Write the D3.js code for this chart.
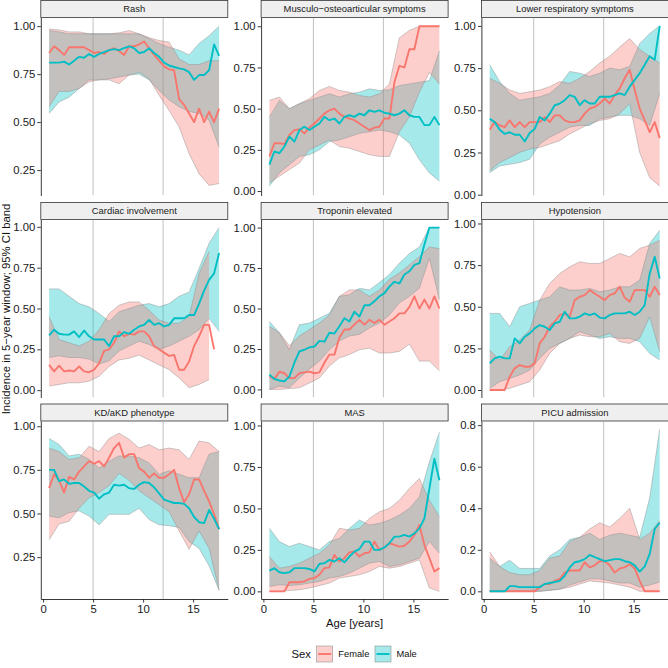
<!DOCTYPE html>
<html><head><meta charset="utf-8">
<script src="https://cdn.jsdelivr.net/npm/d3@7"></script>
<style>
body{margin:0;background:#fff}
svg{display:block}
text{font-family:"Liberation Sans",Arial,Helvetica,sans-serif}
</style>
</head><body>
<svg id="chart" width="668" height="668"></svg>
<script>
// ---------- data ----------
const ages = [0.6,1.1,1.6,2.1,2.6,3.1,3.6,4.1,4.6,5.1,5.6,6.1,6.6,7.1,7.6,8.1,8.6,9.1,9.6,10.1,10.6,11.1,11.6,12.1,12.6,13.1,13.6,14.1,14.6,15.1,15.6,16.1,16.6,17.1,17.6];
const bandAges = [0.6,1.6,2.6,3.6,4.6,5.6,6.6,7.6,8.6,9.6,10.6,11.6,12.6,13.6,14.6,15.6,16.6,17.6];
const panelTitles = ["Rash","Musculo\u2212osteoarticular symptoms","Lower respiratory symptoms","Cardiac involvement","Troponin elevated","Hypotension","KD/aKD phenotype","MAS","PICU admission"];
const sexes = ["Female","Male"];
const xTicks = [0,5,10,15];
const refAges = [5,12];

// Rash
const rashF = [0.86,0.895,0.875,0.85,0.89,0.89,0.89,0.89,0.875,0.86,0.865,0.855,0.875,0.885,0.87,0.85,0.895,0.895,0.905,0.92,0.885,0.85,0.82,0.79,0.775,0.77,0.62,0.59,0.545,0.50,0.57,0.50,0.555,0.50,0.57];
const rashM = [0.81,0.81,0.81,0.815,0.80,0.82,0.84,0.835,0.855,0.84,0.855,0.865,0.875,0.88,0.875,0.885,0.895,0.885,0.86,0.865,0.885,0.86,0.84,0.81,0.795,0.787,0.78,0.775,0.76,0.72,0.745,0.745,0.77,0.905,0.845];
const rashFHi = [0.985,0.98,0.97,0.97,0.96,0.96,0.96,0.965,0.977,0.96,0.94,0.925,0.917,0.83,0.80,0.80,0.82,0.82];
const rashFLo = [0.58,0.66,0.66,0.675,0.71,0.72,0.72,0.70,0.745,0.76,0.725,0.64,0.56,0.475,0.335,0.23,0.17,0.18];
const rashMHi = [0.977,0.97,0.96,0.96,0.96,0.96,0.96,0.96,0.96,0.96,0.935,0.91,0.89,0.875,0.85,0.91,0.95,1.0];
const rashMLo = [0.545,0.605,0.63,0.675,0.72,0.72,0.725,0.735,0.745,0.75,0.72,0.665,0.615,0.58,0.555,0.545,0.51,0.37];

// Musculo-osteoarticular
const muscF = [0.21,0.29,0.29,0.285,0.34,0.37,0.375,0.35,0.385,0.41,0.44,0.47,0.49,0.50,0.47,0.45,0.44,0.43,0.41,0.39,0.37,0.385,0.39,0.44,0.44,0.66,0.76,0.75,0.86,0.86,1.0,1.0,1.0,1.0,1.0];
const muscM = [0.16,0.24,0.23,0.27,0.33,0.30,0.37,0.39,0.37,0.39,0.41,0.45,0.43,0.44,0.41,0.45,0.46,0.45,0.47,0.46,0.49,0.48,0.49,0.475,0.47,0.46,0.47,0.49,0.46,0.45,0.45,0.40,0.40,0.45,0.40];
const muscFHi = [0.55,0.57,0.50,0.53,0.56,0.61,0.635,0.61,0.60,0.58,0.57,0.59,0.65,0.93,0.975,1.0,1.0,1.0];
const muscFLo = [0.05,0.09,0.13,0.17,0.25,0.28,0.31,0.27,0.26,0.24,0.22,0.21,0.21,0.36,0.45,0.60,0.72,0.65];
const muscMHi = [0.45,0.55,0.50,0.53,0.55,0.57,0.59,0.57,0.59,0.60,0.62,0.61,0.615,0.64,0.65,0.66,0.67,0.85];
const muscMLo = [0.03,0.11,0.16,0.21,0.22,0.25,0.30,0.31,0.33,0.35,0.36,0.37,0.36,0.34,0.29,0.19,0.11,0.06];

// Lower respiratory
const respF = [0.385,0.43,0.41,0.40,0.44,0.40,0.43,0.40,0.43,0.43,0.43,0.46,0.43,0.47,0.47,0.44,0.43,0.43,0.44,0.48,0.51,0.52,0.54,0.57,0.54,0.59,0.63,0.69,0.74,0.62,0.51,0.44,0.37,0.43,0.335];
const respM = [0.45,0.43,0.385,0.36,0.37,0.355,0.355,0.315,0.365,0.39,0.46,0.44,0.48,0.53,0.54,0.56,0.59,0.58,0.53,0.56,0.54,0.54,0.58,0.58,0.58,0.59,0.60,0.59,0.64,0.68,0.72,0.77,0.82,0.80,1.0];
const respFHi = [0.69,0.66,0.62,0.60,0.61,0.62,0.64,0.67,0.66,0.69,0.73,0.78,0.82,0.875,0.925,0.86,0.82,0.78];
const respFLo = [0.14,0.19,0.22,0.25,0.27,0.28,0.30,0.32,0.36,0.39,0.42,0.44,0.45,0.48,0.54,0.25,0.10,0.05];
const respMHi = [0.77,0.67,0.60,0.56,0.57,0.58,0.60,0.65,0.73,0.72,0.70,0.72,0.75,0.74,0.76,0.895,0.955,1.0];
const respMLo = [0.13,0.17,0.18,0.19,0.21,0.30,0.34,0.37,0.40,0.41,0.41,0.45,0.46,0.47,0.47,0.45,0.41,0.60];

// Cardiac involvement
const cardF = [0.155,0.115,0.15,0.115,0.12,0.115,0.145,0.115,0.11,0.125,0.165,0.24,0.25,0.29,0.36,0.33,0.345,0.34,0.36,0.36,0.33,0.27,0.25,0.23,0.21,0.215,0.125,0.125,0.175,0.27,0.33,0.40,0.40,0.25,null];
const cardM = [0.335,0.37,0.345,0.34,0.34,0.36,0.325,0.365,0.33,0.31,0.31,0.31,0.27,0.33,0.33,0.355,0.345,0.37,0.39,0.40,0.43,0.40,0.41,0.39,0.40,0.44,0.44,0.44,0.46,0.46,0.53,0.61,0.675,0.715,0.84];
const cardFHi = [0.45,0.31,0.29,0.27,0.30,0.37,0.47,0.52,0.54,0.54,0.49,0.43,0.41,0.41,0.45,0.715,0.85,null];
const cardFLo = [0.025,0.035,0.045,0.045,0.055,0.085,0.145,0.185,0.195,0.215,0.185,0.155,0.125,0.075,0.015,0.035,0.065,null];
const cardMHi = [0.62,0.62,0.575,0.53,0.51,0.47,0.42,0.48,0.50,0.52,0.53,0.51,0.53,0.575,0.60,0.745,0.90,0.995];
const cardMLo = [0.20,0.21,0.20,0.20,0.19,0.16,0.18,0.24,0.27,0.30,0.28,0.25,0.27,0.30,0.33,0.37,0.44,0.36];

// Troponin elevated
const tropF = [0.08,0.065,0.11,0.10,0.07,0.07,0.10,0.105,0.11,0.10,0.105,0.165,0.215,0.215,0.32,0.37,0.37,0.40,0.43,0.40,0.43,0.41,0.43,0.40,0.42,0.44,0.47,0.47,0.51,0.575,0.50,0.555,0.50,0.575,0.50];
const tropM = [0.09,0.065,0.055,0.05,0.08,0.165,0.235,0.245,0.26,0.265,0.30,0.295,0.35,0.345,0.39,0.44,0.42,0.48,0.45,0.52,0.52,0.545,0.575,0.595,0.635,0.665,0.655,0.71,0.73,0.77,0.78,0.895,1.0,1.0,1.0];
const tropFHi = [0.39,0.35,0.27,0.33,0.37,0.41,0.46,0.575,0.615,0.615,0.575,0.615,0.68,0.72,0.77,0.82,0.88,0.87];
const tropFLo = [0.0,0.0,0.005,0.01,0.04,0.07,0.145,0.195,0.215,0.245,0.255,0.225,0.225,0.235,0.28,0.175,0.175,0.115];
const tropMHi = [0.42,0.35,0.245,0.40,0.41,0.44,0.47,0.575,0.585,0.625,0.615,0.66,0.71,0.78,0.84,0.88,1.0,1.0];
const tropMLo = [0.0,0.02,0.01,0.07,0.125,0.175,0.245,0.30,0.33,0.34,0.38,0.41,0.46,0.535,0.575,0.625,0.81,0.555];

// Hypotension
const hypoF = [0,0,0,0,0.08,0.13,0.15,0.14,0.14,0.16,0.28,0.32,0.38,0.41,0.45,0.46,0.44,0.54,0.56,0.57,0.60,0.58,0.56,0.54,0.57,0.58,0.62,0.555,0.53,0.60,0.60,0.60,0.56,0.62,0.57];
const hypoM = [0.16,0.19,0.20,0.19,0.19,0.31,0.28,0.32,0.34,0.37,0.39,0.38,0.36,0.40,0.41,0.47,0.43,0.43,0.44,0.46,0.45,0.46,0.435,0.43,0.45,0.46,0.46,0.46,0.47,0.45,0.47,0.51,0.70,0.80,0.67];
const hypoFHi = [0.24,0.18,0.26,0.30,0.36,0.54,0.64,0.70,0.74,0.77,0.76,0.76,0.79,0.82,0.80,0.85,0.87,0.90];
const hypoFLo = [0.0,0.0,0.01,0.03,0.05,0.12,0.22,0.28,0.31,0.33,0.32,0.32,0.34,0.29,0.28,0.31,0.44,0.23];
const hypoMHi = [0.46,0.46,0.38,0.50,0.52,0.54,0.56,0.62,0.60,0.60,0.61,0.59,0.60,0.62,0.62,0.66,0.88,0.96];
const hypoMLo = [0.01,0.05,0.07,0.09,0.12,0.19,0.25,0.28,0.31,0.35,0.33,0.31,0.32,0.31,0.31,0.29,0.22,0.18];

// KD/aKD phenotype
const kdF = [0.645,0.725,0.69,0.62,0.71,0.695,0.74,0.77,0.80,0.785,0.80,0.77,0.82,0.875,0.905,0.82,0.84,0.84,0.76,0.74,0.705,0.73,0.705,0.705,0.725,0.75,0.645,0.565,0.61,0.695,0.695,0.63,0.57,0.495,0.41];
const kdM = [0.75,0.75,0.685,0.695,0.67,0.675,0.675,0.655,0.63,0.62,0.585,0.61,0.62,0.665,0.66,0.665,0.645,0.64,0.665,0.68,0.675,0.65,0.615,0.58,0.57,0.56,0.56,0.555,0.53,0.48,0.45,0.445,0.52,0.47,0.41];
const kdFHi = [0.875,0.855,0.81,0.82,0.885,0.855,0.93,0.96,0.925,0.875,0.895,0.865,0.875,0.865,0.81,0.915,0.905,0.855];
const kdFLo = [0.35,0.44,0.455,0.53,0.59,0.62,0.66,0.73,0.69,0.63,0.59,0.55,0.51,0.40,0.295,0.40,0.30,0.06];
const kdMHi = [0.93,0.895,0.83,0.84,0.81,0.76,0.80,0.83,0.83,0.82,0.79,0.725,0.745,0.725,0.705,0.705,0.84,0.855];
const kdMLo = [0.485,0.475,0.505,0.515,0.485,0.435,0.495,0.495,0.495,0.53,0.465,0.435,0.43,0.42,0.34,0.30,0.20,0.06];

// MAS
const masF = [0,0,0,0,0.055,0.055,0.055,0.06,0.075,0.08,0.10,0.14,0.145,0.22,0.18,0.20,0.235,0.24,0.21,0.23,0.235,0.30,0.25,0.265,0.29,0.28,0.27,0.275,0.30,0.34,0.40,0.28,0.20,0.12,0.14];
const masM = [0.125,0.14,0.115,0.11,0.115,0.14,0.14,0.14,0.135,0.12,0.165,0.17,0.19,0.18,0.20,0.175,0.21,0.24,0.255,0.30,0.30,0.25,0.25,0.265,0.29,0.33,0.33,0.34,0.33,0.35,0.38,0.44,0.62,0.80,0.67];
const masFHi = [0.21,0.14,0.15,0.17,0.20,0.23,0.28,0.38,0.37,0.38,0.44,0.48,0.50,0.55,0.62,0.68,0.55,0.45];
const masFLo = [0,0,0.005,0.01,0.02,0.035,0.05,0.08,0.09,0.10,0.12,0.15,0.14,0.15,0.17,0.19,0.02,0];
const masMHi = [0.38,0.30,0.27,0.29,0.27,0.25,0.30,0.32,0.38,0.43,0.40,0.41,0.43,0.46,0.50,0.57,0.78,0.96];
const masMLo = [0.03,0.04,0.035,0.04,0.05,0.06,0.08,0.09,0.11,0.14,0.17,0.18,0.15,0.16,0.18,0.20,0.30,0.23];

// PICU admission
const picuF = [0,0,0,0,0,0,0,0,0,0,0.02,0.035,0.035,0.05,0.06,0.09,0.10,0.10,0.10,0.14,0.115,0.125,0.145,0.145,0.125,0.09,0.11,0.115,0.13,0.11,0.05,0,0,0,0];
const picuM = [0,0,0,0,0.025,0.025,0.02,0.02,0.02,0.02,0.02,0.035,0.04,0.045,0.05,0.075,0.115,0.14,0.145,0.155,0.175,0.165,0.155,0.145,0.15,0.155,0.155,0.145,0.14,0.125,0.095,0.12,0.18,0.30,0.33];
const picuFHi = [0.19,0.12,0.09,0.08,0.08,0.10,0.16,0.17,0.24,0.26,0.30,0.33,0.31,0.35,0.40,0.25,0.28,0.34];
const picuFLo = [0,0,0,0,0,0,0.005,0.01,0.02,0.035,0.05,0.045,0.04,0.03,0.02,0,0,0];
const picuMHi = [0.16,0.12,0.15,0.11,0.11,0.11,0.17,0.20,0.25,0.26,0.28,0.25,0.27,0.28,0.27,0.26,0.45,0.78];
const picuMLo = [0,0,0,0,0,0,0.005,0.01,0.03,0.045,0.06,0.06,0.05,0.04,0.04,0.02,0.03,0.045];

// y-axis tick values / labels per panel
const ticksQ1 = [0.25,0.5,0.75,1.0];
const ticksQ0 = [0,0.25,0.5,0.75,1.0];
const labelsQ1 = ["0.25","0.50","0.75","1.00"];
const labelsQ0 = ["0.00","0.25","0.50","0.75","1.00"];
const ticksP = [0,0.2,0.4,0.6,0.8];
const labelsP = ["0.0","0.2","0.4","0.6","0.8"];

// y-scale domains (free y scales)
const yDomains = [[0.1175,1.045],[-0.027,1.053],[-0.005,1.05],[-0.045,1.045],[-0.05,1.05],[-0.045,1.024],[0.01,1.03],[-0.046,1.027],[-0.037,0.82]];

const panels = [
  {f:rashF,m:rashM,fHi:rashFHi,fLo:rashFLo,mHi:rashMHi,mLo:rashMLo,ticks:ticksQ1,labels:labelsQ1},
  {f:muscF,m:muscM,fHi:muscFHi,fLo:muscFLo,mHi:muscMHi,mLo:muscMLo,ticks:ticksQ0,labels:labelsQ0},
  {f:respF,m:respM,fHi:respFHi,fLo:respFLo,mHi:respMHi,mLo:respMLo,ticks:ticksQ0,labels:labelsQ0},
  {f:cardF,m:cardM,fHi:cardFHi,fLo:cardFLo,mHi:cardMHi,mLo:cardMLo,ticks:ticksQ0,labels:labelsQ0},
  {f:tropF,m:tropM,fHi:tropFHi,fLo:tropFLo,mHi:tropMHi,mLo:tropMLo,ticks:ticksQ0,labels:labelsQ0},
  {f:hypoF,m:hypoM,fHi:hypoFHi,fLo:hypoFLo,mHi:hypoMHi,mLo:hypoMLo,ticks:ticksQ0,labels:labelsQ0},
  {f:kdF,m:kdM,fHi:kdFHi,fLo:kdFLo,mHi:kdMHi,mLo:kdMLo,ticks:ticksQ1,labels:labelsQ1},
  {f:masF,m:masM,fHi:masFHi,fLo:masFLo,mHi:masMHi,mLo:masMLo,ticks:ticksQ0,labels:labelsQ0},
  {f:picuF,m:picuM,fHi:picuFHi,fLo:picuFLo,mHi:picuMHi,mLo:picuMLo,ticks:ticksP,labels:labelsP}
];

// ---------- drawing ----------
const colors = {Female:"#F8766D", Male:"#00BFC4"};
const bandAlpha = 0.35;
const svg = d3.select("#chart");
const W = 187, H = 178, stripH = 17;
const colX = [40.8, 261.1, 481.4];
const stripTop = [0.5, 202.5, 404];
const x = d3.scaleLinear().domain([-0.23, 18.47]).range([0, W]);
const defs = svg.append("defs");
defs.append("clipPath").attr("id","pclip").append("rect").attr("x",0).attr("y",0).attr("width",W).attr("height",H);

panels.forEach((p, i) => {
  const c = i % 3, r = Math.floor(i / 3);
  // strip
  const sg = svg.append("g").attr("transform", `translate(${colX[c]},${stripTop[r]})`);
  sg.append("rect").attr("x",0).attr("y",0).attr("width",W).attr("height",stripH)
    .attr("fill","#efefef").attr("stroke","#333").attr("stroke-width",0.8);
  sg.append("text").attr("x",W/2).attr("y",stripH/2+3.3).attr("text-anchor","middle")
    .attr("font-size",9.4).attr("fill","#1a1a1a").text(panelTitles[i]);

  const g = svg.append("g").attr("transform", `translate(${colX[c]},${stripTop[r]+stripH})`);
  const y = d3.scaleLinear().domain(yDomains[i]).range([H, 0]);
  const pg = g.append("g").attr("clip-path","url(#pclip)");

  // reference lines
  pg.selectAll("line.ref").data(refAges).join("line").attr("class","ref")
    .attr("x1",d=>x(d)).attr("x2",d=>x(d)).attr("y1",0).attr("y2",H)
    .attr("stroke","#a6a6a6").attr("stroke-width",0.7);

  // male band drawn first so the overlap blends to grey as in the reference
  const bands = [
    {sex:"Male", lo:p.mLo, hi:p.mHi},
    {sex:"Female", lo:p.fLo, hi:p.fHi}
  ];
  const area = d3.area().defined(d => d.lo != null && d.hi != null)
    .x(d => x(d.x)).y0(d => y(d.lo)).y1(d => y(d.hi));
  const edge = d3.line().defined(d => d.v != null).x(d => x(d.x)).y(d => y(d.v));
  bands.forEach(b => {
    const pts = bandAges.map((a, k) => ({x:a, lo:b.lo[k], hi:b.hi[k]}));
    pg.append("path").datum(pts).attr("d", area)
      .attr("fill", colors[b.sex]).attr("fill-opacity", bandAlpha).attr("stroke","none");
  });
  bands.forEach(b => {
    ["lo","hi"].forEach(key => {
      const pts = bandAges.map((a, k) => ({x:a, v:b[key][k]}));
      pg.append("path").datum(pts).attr("d", edge)
        .attr("fill","none").attr("stroke","#8c8c8c").attr("stroke-opacity",0.8).attr("stroke-width",0.55);
    });
  });
  const line = d3.line().defined(d => d.v != null).x(d => x(d.x)).y(d => y(d.v));
  [["Female", p.f], ["Male", p.m]].forEach(([sex, vals]) => {
    const pts = ages.map((a, k) => ({x:a, v:vals[k]}));
    pg.append("path").datum(pts).attr("d", line)
      .attr("fill","none").attr("stroke", colors[sex]).attr("stroke-width",1.9)
      .attr("stroke-linejoin","round");
  });

  // y axis
  const ya = g.append("g").call(d3.axisLeft(y).tickValues(p.ticks)
      .tickFormat((d, j) => p.labels[j]).tickSize(3.5).tickSizeOuter(0).tickPadding(2));
  ya.select(".domain").attr("stroke","#222").attr("stroke-width",0.9);
  ya.selectAll(".tick line").attr("stroke","#222").attr("stroke-width",0.9);
  ya.selectAll(".tick text").attr("font-size",11.3).attr("fill","#1a1a1a")
    .attr("font-family",'"Liberation Sans",Arial,sans-serif');

  if (r === 2) {
    const xa = g.append("g").attr("transform",`translate(0,${H})`)
      .call(d3.axisBottom(x).tickValues(xTicks).tickFormat(d3.format("d")).tickSize(3.5).tickSizeOuter(0).tickPadding(2.5));
    xa.select(".domain").attr("stroke","#222").attr("stroke-width",0.9);
    xa.selectAll(".tick line").attr("stroke","#222").attr("stroke-width",0.9);
    xa.selectAll(".tick text").attr("font-size",11.3).attr("fill","#1a1a1a")
      .attr("font-family",'"Liberation Sans",Arial,sans-serif');
  }
});

// axis titles
svg.append("text").attr("x",354.5).attr("y",627).attr("text-anchor","middle")
  .attr("font-size",11.3).attr("fill","#111").text("Age [years]");
svg.append("text").attr("transform","translate(9.5,309) rotate(-90)").attr("text-anchor","middle")
  .attr("font-size",11.3).attr("fill","#111").text("Incidence in 5\u2212year window; 95% CI band");

// legend
const lg = svg.append("g");
lg.append("text").attr("x",291.5).attr("y",658).attr("font-size",11.3).attr("fill","#111").text("Sex");
const keyX = [316.7, 375];
sexes.forEach((s, k) => {
  const kx = keyX[k];
  lg.append("rect").attr("x",kx).attr("y",646).attr("width",16).attr("height",16)
    .attr("fill",colors[s]).attr("fill-opacity",bandAlpha).attr("stroke","#8c8c8c").attr("stroke-width",0.55);
  lg.append("line").attr("x1",kx+1.5).attr("x2",kx+14.5).attr("y1",654).attr("y2",654)
    .attr("stroke",colors[s]).attr("stroke-width",1.9);
  lg.append("text").attr("x",kx+21.6).attr("y",657.3).attr("font-size",9.3).attr("fill","#111").text(s);
});
</script>
</body></html>
